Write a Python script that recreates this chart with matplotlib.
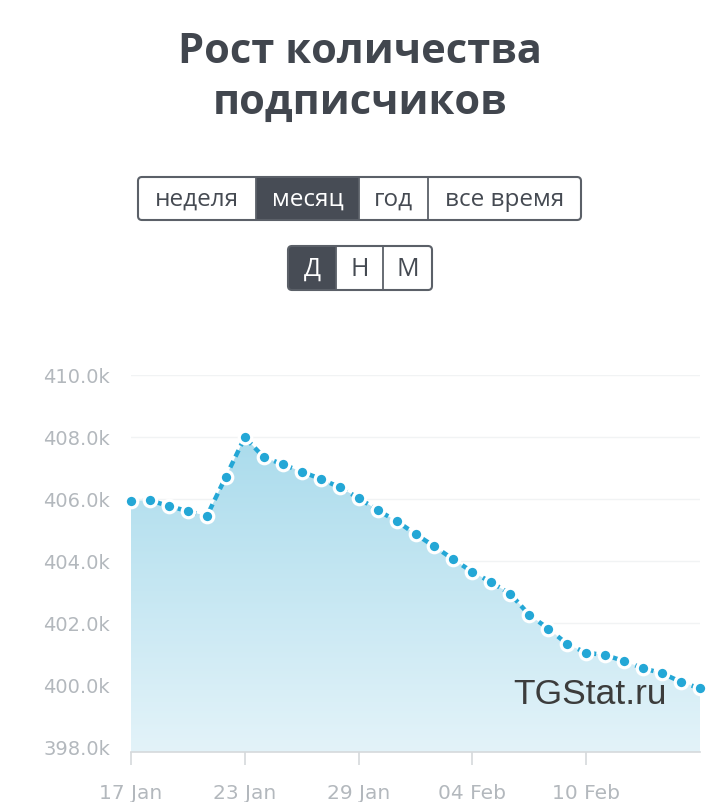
import matplotlib
matplotlib.use("Agg")
import matplotlib.pyplot as plt
import numpy as np
from matplotlib.patches import FancyBboxPatch, Rectangle, Polygon
from matplotlib.colors import LinearSegmentedColormap

# subscriber counts (thousands), daily from 17 Jan to 16 Feb
days = list(range(31))
subscribers_k = [405.94, 405.96, 405.77, 405.61, 405.45, 406.72, 407.99, 407.35,
                 407.12, 406.88, 406.65, 406.38, 406.03, 405.64, 405.29, 404.87,
                 404.47, 404.05, 403.65, 403.31, 402.94, 402.26, 401.82, 401.32,
                 401.04, 400.97, 400.77, 400.54, 400.38, 400.10, 399.89]
x_tick_pos = [0, 6, 12, 18, 24]
x_tick_labels = ["17 Jan", "23 Jan", "29 Jan", "04 Feb", "10 Feb"]
y_ticks = [398, 400, 402, 404, 406, 408, 410]
period_buttons = ["неделя", "месяц", "год", "все время"]
scale_buttons = ["Д", "Н", "М"]
title = "Рост количества\nподписчиков"

W, H = 720, 802
fig = plt.figure(figsize=(W / 100, H / 100), dpi=100)
fig.patch.set_facecolor("white")

DARK = "#41464e"
LINE = "#24a7d6"
GRAY = "#b3b8bd"

def fx(px):
    return px / W

def fy(py):
    return 1 - py / H

# title
fig.text(0.5, fy(78), title, ha="center", va="center", fontsize=30,
         fontweight="bold", color=DARK, family="Open Sans", linespacing=1.32)

# segmented controls
ov = fig.add_axes([0, 0, 1, 1], zorder=5)
ov.set_xlim(0, W)
ov.set_ylim(H, 0)
ov.axis("off")

def segmented(edges, top, bottom, labels, active, fs):
    x0, x1 = edges[0], edges[-1]
    for i, lab in enumerate(labels):
        a, b = edges[i], edges[i + 1]
        if i == active:
            if i == 0:
                ov.add_patch(FancyBboxPatch((a, top), b - a, bottom - top,
                                            boxstyle="round,pad=0,rounding_size=4",
                                            fc="#474c55", ec="none"))
                ov.add_patch(Rectangle((a + 5, top), b - a - 5, bottom - top,
                                       fc="#474c55", ec="none"))
            else:
                ov.add_patch(Rectangle((a, top), b - a, bottom - top,
                                       fc="#474c55", ec="none"))
        ov.text((a + b) / 2, (top + bottom) / 2 + 1, lab, ha="center", va="center",
                fontsize=fs, color="white" if i == active else "#454a52",
                family="Open Sans")
        if 0 < i:
            ov.plot([a, a], [top, bottom], color="#5b6068", lw=1.3)
    ov.add_patch(FancyBboxPatch((x0, top), x1 - x0, bottom - top,
                                boxstyle="round,pad=0,rounding_size=4",
                                fc="none", ec="#5b6068", lw=1.5))

segmented([138, 256, 359, 428, 581], 177, 220, period_buttons, 1, 17.5)
segmented([288, 336, 383, 432], 246, 290, scale_buttons, 0, 18)

# chart
Y_MIN = 397.84
ax = fig.add_axes([fx(131), fy(752), fx(700) - fx(131), fy(375) - fy(752)])
ax.set_xlim(0, 30)
ax.set_ylim(Y_MIN, 410)
for s in ["top", "right", "left"]:
    ax.spines[s].set_visible(False)
ax.spines["bottom"].set_color("#d5d9dc")
ax.spines["bottom"].set_linewidth(1.2)

for yv in y_ticks:
    ax.axhline(yv, color="#f1f3f4", lw=1, zorder=0)

# gradient area under the line
verts = [(days[0], Y_MIN)] + list(zip(days, subscribers_k)) + [(days[-1], Y_MIN)]
poly = Polygon(verts, closed=True, fc="none", ec="none")
ax.add_patch(poly)
grad = np.linspace(0, 1, 256).reshape(-1, 1)
cmap = LinearSegmentedColormap.from_list("area", ["#e3f3f9", "#a9dbec"])
im = ax.imshow(grad, extent=[0, 30, Y_MIN, 408.2], origin="lower", cmap=cmap,
               aspect="auto", zorder=1)
im.set_clip_path(poly)

ax.plot(days, subscribers_k, color=LINE, lw=3.2, dashes=(1.6, 1.1), zorder=3,
        dash_capstyle="butt")
ax.plot(days, subscribers_k, linestyle="none", marker="o", markersize=9,
        markerfacecolor=LINE, markeredgecolor="white", markeredgewidth=2.3,
        zorder=4, clip_on=False)

ax.set_yticks(y_ticks)
ax.set_yticklabels([f"{v:.1f}k" for v in y_ticks])
ax.tick_params(axis="y", length=0, pad=15, labelsize=14, labelcolor=GRAY)
ax.set_xticks(x_tick_pos)
ax.set_xticklabels(x_tick_labels)
ax.tick_params(axis="x", length=9, width=1.2, color="#d5d9dc", pad=14,
               labelsize=14.5, labelcolor=GRAY)
for lbl in ax.get_xticklabels() + ax.get_yticklabels():
    lbl.set_family("DejaVu Sans")

ax.text((667 - 131) / (700 - 131), (752 - 694) / (752 - 375), "TGStat.ru",
        transform=ax.transAxes, ha="right", va="center",
        fontsize=25.5, color="#3c3c3c", family="Liberation Sans", zorder=6)

fig.savefig("out.png", dpi=100, facecolor="white")
